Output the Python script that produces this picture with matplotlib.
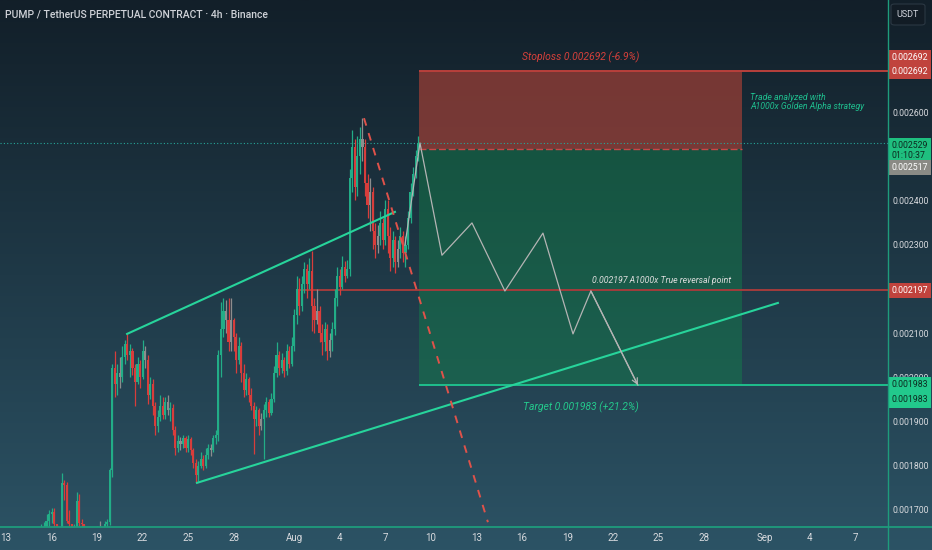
import numpy as np
import matplotlib
matplotlib.use("Agg")
import matplotlib.pyplot as plt
from matplotlib.patches import Rectangle, FancyBboxPatch
from matplotlib.lines import Line2D
from matplotlib.transforms import blended_transform_factory

# ---- data (x in days since Jul 13, prices in micro-USDT for the candles) ----
first_index = 12          # first 4h candle shown (Jul 15 00:00)
first_open = 1620

closes = [1630, 1640, 1655, 1662, 1675, 1690, 1695, 1668, 1660, 1645,
          1760, 1755, 1675, 1668, 1650, 1660, 1720, 1670, 1668, 1650,
          1640, 1635, 1645, 1640, 1655, 1662, 1650, 1668, 1672, 1790,
          2021, 1985, 2010, 2000, 2045, 2075, 2050, 2060, 2020, 1990,
          2030, 2000, 2060, 2040, 1960, 1985, 1935, 1890, 1910, 1935,
          1915, 1945, 1925, 1930, 1880, 1840, 1855, 1848, 1862, 1840,
          1860, 1835, 1805, 1778, 1800, 1815, 1800, 1825, 1840, 1835,
          1862, 1870, 2050, 2110, 2150, 2130, 2080, 2130, 2090, 2040,
          2070, 2010, 1970, 1995, 1960, 1935, 1905, 1925, 1890, 1905,
          1925, 1945, 1920, 1950, 2010, 2050, 2020, 2040, 2015, 2060,
          2030, 2070, 2140, 2200, 2160, 2210, 2245, 2210, 2240, 2160,
          2130, 2150, 2100, 2080, 2110, 2060, 2085, 2110, 2180, 2230,
          2205, 2250, 2230, 2245, 2450, 2520, 2430, 2500, 2540, 2520,
          2440, 2390, 2420, 2330, 2300, 2320, 2350, 2310, 2380, 2320,
          2270, 2310, 2260, 2290, 2320, 2280, 2300, 2360, 2420, 2460,
          2500, 2529]

highs = [1645, 1652, 1668, 1672, 1690, 1700, 1705, 1703, 1668, 1660,
         1783, 1768, 1762, 1700, 1668, 1668, 1740, 1735, 1680, 1662,
         1652, 1648, 1657, 1652, 1664, 1675, 1660, 1675, 1680, 1795,
         2030, 2060, 2030, 2045, 2070, 2085, 2097, 2075, 2065, 2030,
         2045, 2040, 2085, 2070, 2050, 2000, 1995, 1945, 1925, 1960,
         1955, 1955, 1960, 1945, 1940, 1890, 1870, 1865, 1870, 1868,
         1870, 1865, 1840, 1815, 1810, 1830, 1825, 1840, 1850, 1850,
         1870, 1880, 2062, 2170, 2180, 2175, 2180, 2180, 2135, 2100,
         2090, 2080, 2030, 2010, 2000, 1975, 1945, 1935, 1930, 1920,
         1940, 1955, 1950, 1965, 2025, 2080, 2060, 2055, 2045, 2075,
         2070, 2090, 2155, 2230, 2225, 2230, 2260, 2255, 2270, 2285,
         2180, 2200, 2160, 2120, 2125, 2120, 2100, 2125, 2200, 2250,
         2245, 2275, 2262, 2265, 2470, 2560, 2540, 2545, 2565, 2586,
         2540, 2460, 2450, 2430, 2350, 2345, 2375, 2360, 2400, 2400,
         2340, 2330, 2320, 2310, 2340, 2330, 2320, 2375, 2440, 2475,
         2515, 2545]

lows = [1615, 1625, 1632, 1640, 1650, 1660, 1670, 1655, 1640, 1625,
        1640, 1722, 1670, 1650, 1630, 1640, 1655, 1660, 1650, 1635,
        1625, 1620, 1630, 1625, 1640, 1645, 1638, 1645, 1655, 1665,
        1774, 1955, 1960, 1975, 1990, 2030, 2040, 2000, 2005, 1935,
        1985, 1975, 1995, 2020, 1940, 1950, 1915, 1870, 1875, 1900,
        1905, 1905, 1915, 1900, 1870, 1825, 1830, 1835, 1840, 1830,
        1830, 1825, 1795, 1760, 1765, 1795, 1790, 1795, 1815, 1822,
        1830, 1850, 1855, 2000, 2090, 2100, 2060, 2060, 2060, 2010,
        2030, 1990, 1955, 1960, 1945, 1925, 1826, 1890, 1870, 1880,
        1815, 1910, 1910, 1915, 1945, 2000, 2005, 2010, 2000, 2005,
        2020, 2025, 2060, 2120, 2140, 2150, 2190, 2180, 2200, 2105,
        2100, 2120, 2080, 2050, 2060, 2040, 2045, 2060, 2095, 2160,
        2185, 2200, 2215, 2225, 2230, 2420, 2400, 2410, 2460, 2490,
        2410, 2360, 2330, 2290, 2270, 2280, 2300, 2290, 2300, 2280,
        2240, 2250, 2235, 2250, 2270, 2260, 2250, 2290, 2350, 2410,
        2450, 2490]

gray_candles = [37, 45, 55, 64, 69, 81, 87, 89, 101, 123, 128, 141, 144, 147, 155]

# drawings: (day, price)
upper_trend = [(7.98, 0.002098), (25.64, 0.002374)]
lower_trend = [(12.59, 0.001761), (50.89, 0.002168)]
drop_line = [(23.60, 0.002586), (31.77, 0.001672)]
path_days = [26.30, 27.29, 28.74, 30.72, 32.89, 35.40, 37.38, 38.56, 41.66]
path_prices = [0.002299, 0.002530, 0.002276, 0.002349, 0.002195,
               0.002326, 0.002098, 0.002195, 0.001982]

entry = 0.002517
stop = 0.002692
target = 0.001983
last_price = 0.002529
reversal = 0.002197
trade_start, trade_end = 27.22, 48.52
reversal_start = 19.38

price_ticks = [0.0017, 0.0018, 0.0019, 0.0020, 0.0021, 0.0023, 0.0024, 0.0026]
date_ticks = [0, 3, 6, 9, 12, 15, 19, 22, 25, 28, 31, 34, 37, 40, 43, 46, 50, 53, 56]
date_labels = ['13', '16', '19', '22', '25', '28', 'Aug', '4', '7', '10', '13',
               '16', '19', '22', '25', '28', 'Sep', '4', '7']

GREEN = '#22ad87'
RED = '#d83d3b'
GRAY = '#8d8d8d'
TREND = '#27d49b'
NARROW = ['Roboto', 'DejaVu Sans']


def main():
    fig = plt.figure(figsize=(9.32, 5.5), dpi=100)

    # gradient background
    bg = fig.add_axes([0, 0, 1, 1], zorder=-5)
    top = np.array([18, 31, 41]) / 255
    bot = np.array([44, 83, 101]) / 255
    t = np.linspace(0, 1, 256)[:, None]
    grad = top + (bot - top) * t
    bg.imshow(grad[:, None, :], aspect='auto', extent=[0, 1, 0, 1])
    bg.axis('off')

    ax = fig.add_axes([0, 23 / 550, 888 / 932, 527 / 550])
    ax.set_facecolor('none')
    ax.set_xlim(-0.4, 58.15)
    ax.set_ylim(0.0016611, 0.0028534)

    # candles
    c = np.array(closes) / 1e6
    o = np.concatenate([[first_open / 1e6], c[:-1]])
    h = np.maximum(np.array(highs) / 1e6, np.maximum(o, c))
    l = np.minimum(np.array(lows) / 1e6, np.minimum(o, c))
    idx = np.arange(first_index, first_index + len(c))
    xs = idx / 6.0
    cols = []
    for k, i in enumerate(idx):
        if i in gray_candles:
            cols.append(GRAY)
        elif c[k] >= o[k]:
            cols.append(GREEN)
        else:
            cols.append(RED)
    ax.vlines(xs, l, h, colors=cols, lw=0.9, zorder=3)
    body = np.maximum(np.abs(c - o), 0.000002)
    ax.bar(xs, body, bottom=np.minimum(o, c), width=0.14, color=cols, zorder=3)

    # position tool
    ax.add_patch(Rectangle((trade_start, entry), trade_end - trade_start, stop - entry,
                           fc='#b24236', alpha=0.62, ec='none', zorder=1))
    ax.add_patch(Rectangle((trade_start, target), trade_end - trade_start, entry - target,
                           fc='#12844b', alpha=0.45, ec='none', zorder=1))
    ax.hlines(stop, trade_start, 58.15, color='#b8403c', lw=1.4, zorder=2)
    ax.hlines(target, trade_start, 58.15, color='#1fbf8c', lw=1.4, zorder=2)
    ax.hlines(entry, trade_start, trade_end, color='#c44a4a', lw=1.0, ls=(0, (5, 2)), zorder=2)
    ax.hlines(reversal, reversal_start, 58.15, color='#a33c3c', lw=1.4, zorder=2)
    ax.axhline(last_price, color='#26a69a', lw=0.8, ls=(0, (1, 2)), zorder=2)

    # trend lines
    ax.plot(*zip(*upper_trend), color=TREND, lw=1.5, zorder=4)
    ax.plot(*zip(*lower_trend), color=TREND, lw=1.5, zorder=4)
    ax.plot(*zip(*drop_line), color='#e0524a', lw=1.4, ls=(0, (4, 4)), zorder=4)

    # projected path
    ax.plot(path_days, path_prices, color='#b4b4b4', lw=0.9, zorder=5)
    ax.annotate('', xy=(path_days[-1], path_prices[-1]),
                xytext=(path_days[-2], path_prices[-2]),
                arrowprops=dict(arrowstyle='->', color='#b4b4b4', lw=0.9,
                                shrinkA=0, shrinkB=0), zorder=5)

    # drawing texts
    mid = (trade_start + trade_end) / 2
    ax.annotate('Stoploss 0.002692 (-6.9%)', xy=(mid, stop), xytext=(0, 10),
                textcoords='offset points', ha='center', va='center',
                color='#d5403b', fontsize=7.5, style='italic', family=NARROW)
    ax.annotate('Target 0.001983 (+21.2%)', xy=(mid, target), xytext=(0, -16),
                textcoords='offset points', ha='center', va='center',
                color='#24c98c', fontsize=7.5, style='italic', family=NARROW)
    ax.annotate('Trade analyzed with\nA1000x Golden Alpha strategy', xy=(trade_end, stop),
                xytext=(6, -22), textcoords='offset points', ha='left', va='center',
                color='#1fbf8f', fontsize=6.3, style='italic', family=NARROW, linespacing=1.05)
    ax.annotate('0.002197 A1000x True reversal point', xy=(trade_end, reversal),
                xytext=(-8, 7), textcoords='offset points', ha='right', va='center',
                color='#dedede', fontsize=6.3, style='italic', family=NARROW)

    # axes styling
    for s in ax.spines.values():
        s.set_visible(False)
    ax.yaxis.tick_right()
    ax.set_yticks(price_ticks)
    ax.set_yticklabels(['%.6f' % p for p in price_ticks])
    ax.set_xticks(date_ticks)
    ax.set_xticklabels(date_labels)
    ax.tick_params(axis='y', length=0, pad=3.5, labelsize=6.3, labelcolor='#d8dade')
    ax.tick_params(axis='x', length=0, pad=4, labelsize=7, labelcolor='#d8dade')
    for lab in ax.get_xticklabels() + ax.get_yticklabels():
        lab.set_family(NARROW)

    # price boxes on the right scale
    tr = blended_transform_factory(ax.transAxes, ax.transData)

    def price_box(text, price, fc, tc='white', dy=0):
        ax.annotate(text, xy=(1.0, price), xycoords=tr, xytext=(2.5, dy),
                    textcoords='offset points', ha='left', va='center',
                    fontsize=6.3, color=tc, family=NARROW, annotation_clip=False,
                    linespacing=1.15,
                    bbox=dict(boxstyle='square,pad=0.35', fc=fc, ec='none'), zorder=10)

    price_box('0.002692', stop, '#c0433d', dy=10)
    price_box('0.002692', stop, '#c0433d')
    price_box('0.002529\n01:10:37', last_price, '#1fbf7f', tc='#0d2a20', dy=-5)
    price_box('0.002517', entry, '#8a8a85', dy=-13.5)
    price_box('0.002197', reversal, '#c0433d')
    price_box('0.001983', target, '#22c98c', tc='#0d2a20')
    price_box('0.001983', target, '#22c98c', tc='#0d2a20', dy=-11)

    # USDT box
    fig.patches.append(FancyBboxPatch((891 / 932, 1 - 25 / 550), 34 / 932, 21 / 550,
                                      boxstyle='round,pad=0,rounding_size=0.004',
                                      transform=fig.transFigure, fc='#121c25',
                                      ec='#2b3843', lw=0.8))
    fig.text(908 / 932, 1 - 14.5 / 550, 'USDT', ha='center', va='center',
             fontsize=6.5, color='#d1d4dc', family=NARROW)

    # title
    fig.text(5 / 932, 1 - 14 / 550, 'PUMP / TetherUS PERPETUAL CONTRACT \u00b7 4h \u00b7 Binance',
             ha='left', va='center', fontsize=7.5, color='#cfd2d8', family=NARROW,
             fontweight='medium')

    # chart borders
    fig.add_artist(Line2D([0, 1], [23 / 550, 23 / 550], color='#1e9c7c', lw=1.3))
    fig.add_artist(Line2D([888 / 932, 888 / 932], [0, 1], color='#1e9c7c', lw=1.0))

    fig.savefig('out.png', dpi=100)


if __name__ == '__main__':
    main()
